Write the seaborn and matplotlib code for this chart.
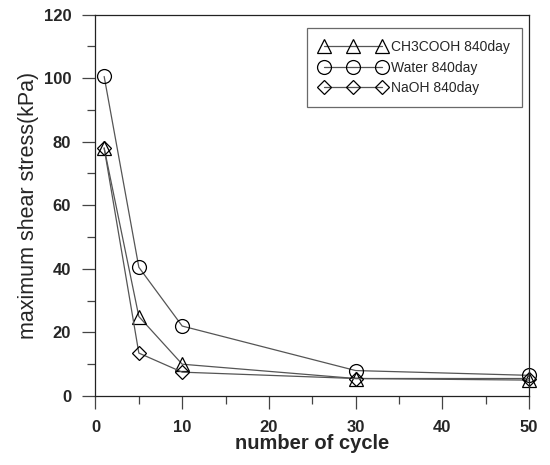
import matplotlib
matplotlib.use('Agg')
import matplotlib.pyplot as plt
import seaborn as sns
from matplotlib.ticker import MultipleLocator

# Datos
ciclos = [1, 5, 10, 30, 50]
ch3cooh = [78, 25, 10, 5.5, 5]
agua = [100.5, 40.5, 22, 8, 6.5]
naoh = [78, 13.5, 7.5, 5.5, 5.5]

series = [
    ('CH3COOH 840day', ch3cooh, '^'),
    ('Water 840day', agua, 'o'),
    ('NaOH 840day', naoh, 'D'),
]

sns.set_style('ticks')
plt.rcParams['font.family'] = ['Liberation Sans', 'DejaVu Sans']

fig = plt.figure(figsize=(5.5, 4.65), dpi=100)
ax = fig.add_axes([0.1736, 0.1484, 0.7884, 0.8204])

for nombre, valores, marcador in series:
    ms = 10 if marcador == 'o' else (9.5 if marcador == '^' else 7.5)
    sns.lineplot(x=ciclos, y=valores, ax=ax, label=nombre, color='#555555',
                 linewidth=0.9, marker=marcador, markersize=ms,
                 markerfacecolor='none', markeredgecolor='black',
                 markeredgewidth=0.9, clip_on=False)

ax.set_xlim(0, 50)
ax.set_ylim(0, 120)
ax.xaxis.set_major_locator(MultipleLocator(10))
ax.xaxis.set_minor_locator(MultipleLocator(5))
ax.yaxis.set_major_locator(MultipleLocator(20))
ax.yaxis.set_minor_locator(MultipleLocator(10))
ax.tick_params(which='major', length=9.5, width=0.9, color='#444444', direction='out')
ax.tick_params(which='minor', length=5.5, width=0.9, color='#444444', direction='out')
ax.tick_params(axis='x', which='major', pad=8)
ax.tick_params(axis='y', which='major', pad=8)
for lab in ax.get_xticklabels() + ax.get_yticklabels():
    lab.set_fontweight('bold')
    lab.set_fontsize(12)

for s in ax.spines.values():
    s.set_color('#222222')
    s.set_linewidth(0.9)

ax.set_xlabel('number of cycle', fontsize=14.5, fontweight='bold', labelpad=-1)
ax.set_ylabel('maximum shear stress(kPa)', fontsize=15.5, labelpad=3)

leg = ax.legend(loc='upper right', bbox_to_anchor=(0.984, 0.965), borderaxespad=0,
                numpoints=3, handlelength=4.8, handletextpad=0.3, fontsize=10,
                labelspacing=0.45, fancybox=False, frameon=True, borderpad=0.9)
leg.get_frame().set_edgecolor('#444444')
leg.get_frame().set_linewidth(0.9)

fig.savefig('out.png', dpi=100)
